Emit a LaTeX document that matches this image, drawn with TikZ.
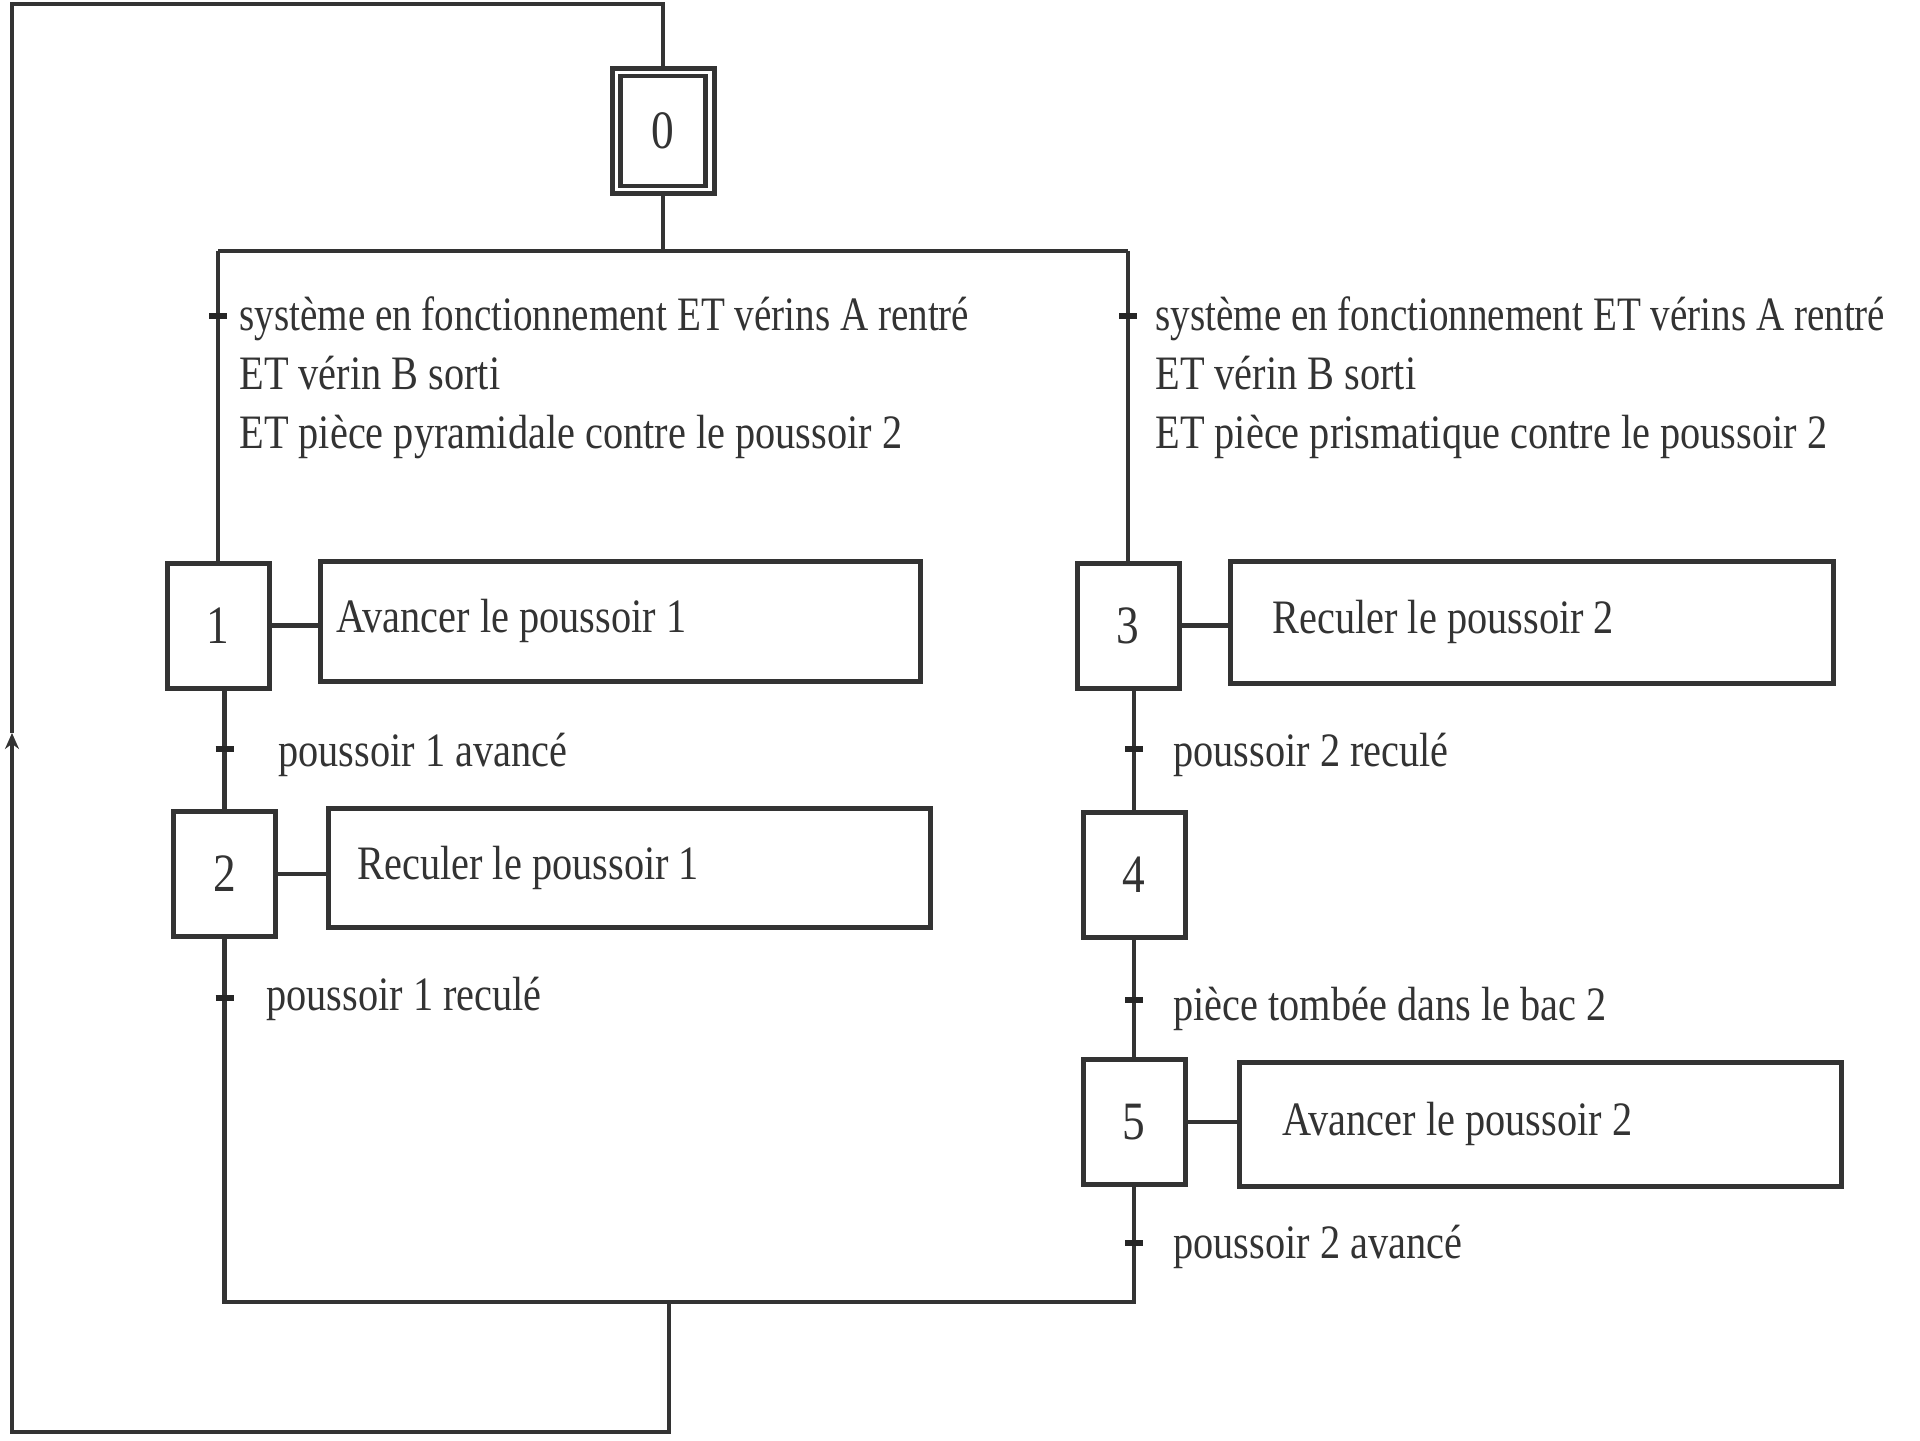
\documentclass[tikz,border=0pt]{standalone}
\usepackage{fontspec}
\setmainfont{Liberation Serif}[FakeStretch=0.84]
\usetikzlibrary{arrows.meta}
\begin{document}
\begin{tikzpicture}[x=0.5pt,y=-0.5pt,
  ligne/.style={line width=2.3pt, draw=black!80},
  boite/.style={draw=black!80, line width=2.5pt, inner sep=0pt, fill=white},
  etape/.style={boite, minimum width=51pt, minimum height=62.5pt, font=\fontsize{27}{30}\selectfont, text=black!80},
  action/.style={boite, anchor=west, font=\fontsize{24}{28}\selectfont, text=black!80},
  recept/.style={line width=2.8pt, draw=black!85},
  lbl/.style={anchor=base west, inner sep=0pt, font=\fontsize{24}{28}\selectfont, text=black!80},
]
\useasboundingbox[fill=white] (0,0) rectangle (1920,1440);

% steps
\node[etape] (s0) at (663,131) {0};
\draw[line width=2.3pt, draw=black!80] ([shift={(5.5pt,-5pt)}]s0.north west) rectangle ([shift={(-5.5pt,5pt)}]s0.south east);
\node[etape] (s1) at (218,625.5) {1};
\node[etape] (s2) at (224.5,874) {2};
\node[etape] (s3) at (1128,625.5) {3};
\node[etape] (s4) at (1134,875) {4};
\node[etape] (s5) at (1134,1122) {5};

% actions
\node[action, minimum height=60pt] (a1) at (318,621) {\makebox[300pt][l]{\hspace*{8pt}Avancer le poussoir 1}};
\node[action, minimum height=59.5pt] (a2) at (326,867.5) {\makebox[301pt][l]{\hspace*{14.5pt}Reculer le poussoir 1}};
\node[action, minimum height=61pt] (a3) at (1228,622) {\makebox[301.5pt][l]{\hspace*{21pt}Reculer le poussoir 2}};
\node[action, minimum height=62pt] (a5) at (1237,1124) {\makebox[301pt][l]{\hspace*{21.5pt}Avancer le poussoir 2}};

\draw[ligne] (s1.east) -- (a1.west |- s1.east);
\draw[ligne] (s2.east) -- (a2.west |- s2.east);
\draw[ligne] (s3.east) -- (a3.west |- s3.east);
\draw[ligne] (s5.east) -- (a5.west |- s5.east);

% divergence
\coordinate (div0) at (663,251);
\coordinate (divG) at (s1.north |- div0);
\coordinate (divD) at (s3.north |- div0);
\draw[ligne] (s0.south) -- (div0);
\draw[ligne] (divG) -- (divD);
\draw[ligne] (divG) -- (s1.north);
\draw[ligne] (divD) -- (s3.north);

% sequences
\draw[ligne] (s2.north |- s1.south) -- (s2.north);
\draw[ligne] (s4.north |- s3.south) -- (s4.north);
\draw[ligne] (s4.south) -- (s5.north);

% convergence
\coordinate (conv0) at (669,1302);
\coordinate (convG) at (s2.south |- conv0);
\coordinate (convD) at (s5.south |- conv0);
\draw[ligne] (s2.south) -- (convG) -- (convD) -- (s5.south);

% loop back
\coordinate (basD) at (669,1432);
\coordinate (basG) at (12,1432);
\coordinate (fleche) at (12,733);
\coordinate (hautG) at (12,4);
\coordinate (hautD) at (s0.north |- hautG);
\draw[ligne, -{Stealth[length=8pt,width=7pt]}] (conv0) -- (basD) -- (basG) -- (fleche);
\draw[ligne] (fleche) -- (hautG) -- (hautD) -- (s0.north);

% transitions (ticks)
\coordinate (t1) at (s1.north |- 0,316);
\coordinate (t2) at (s3.north |- 0,316);
\coordinate (t3) at (s2.north |- 0,749);
\coordinate (t4) at (s2.south |- 0,998);
\coordinate (t5) at (s4.north |- 0,749);
\coordinate (t6) at (s5.north |- 0,1000);
\coordinate (t7) at (s5.south |- 0,1243);
\foreach \t in {t1,t2,t3,t4,t5,t6,t7}
  \draw[recept] ([xshift=-4.5pt]\t) -- ([xshift=4.5pt]\t);

% receptivity labels
\node[lbl] (c1a) at (239,330) {\scalebox{0.97}[1]{système en fonctionnement ET vérins A rentré}};
\node[lbl] (c1b) at (239,389) {ET vérin B sorti};
\node[lbl] (c1c) at (239,448) {ET pièce pyramidale contre le poussoir 2};
\node[lbl] (c2a) at (1155,330) {\scalebox{0.97}[1]{système en fonctionnement ET vérins A rentré}};
\node[lbl] (c2b) at (1155,389) {ET vérin B sorti};
\node[lbl] (c2c) at (1155,448) {ET pièce prismatique contre le poussoir 2};
\node[lbl] (r3) at (278,766) {poussoir 1 avancé};
\node[lbl] (r4) at (266,1010) {poussoir 1 reculé};
\node[lbl] (r5) at (1173,766) {poussoir 2 reculé};
\node[lbl] (r6) at (1173,1020) {pièce tombée dans le bac 2};
\node[lbl] (r7) at (1173,1258) {poussoir 2 avancé};
\end{tikzpicture}
\end{document}
